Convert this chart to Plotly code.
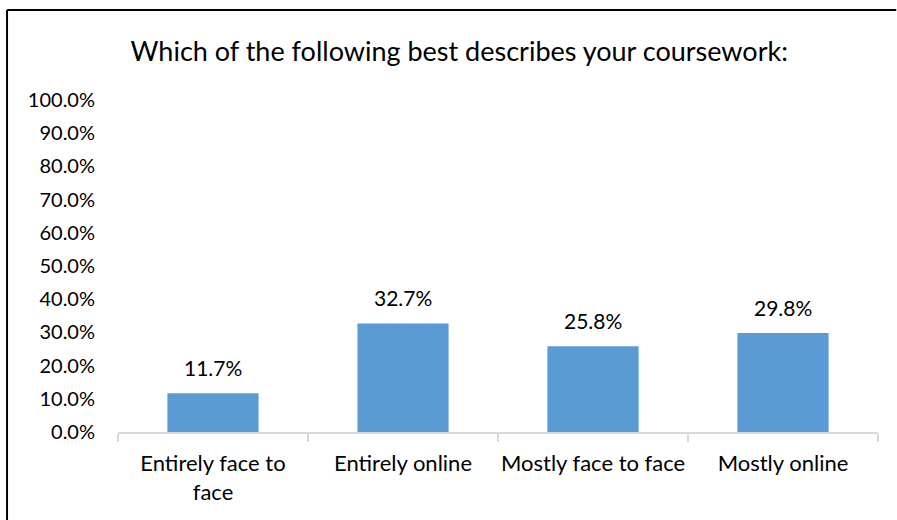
import plotly.graph_objects as go

categories = ["Entirely face to<br>face", "Entirely online", "Mostly face to face", "Mostly online"]
shares = [0.117, 0.327, 0.258, 0.298]
y_ticks = [0.0, 0.1, 0.2, 0.3, 0.4, 0.5, 0.6, 0.7, 0.8, 0.9, 1.0]

FONT = "Lato"

fig = go.Figure()
fig.add_trace(go.Bar(
    x=categories,
    y=shares,
    marker=dict(color="#5b9bd5", line=dict(width=0)),
    hoverinfo="skip",
))

# data labels floating a little above each bar
for c, v in zip(categories, shares):
    fig.add_annotation(
        x=c, y=v, text=f"{v:.1%}", showarrow=False,
        yanchor="bottom", yshift=11,
        font=dict(family=FONT, size=21, color="#000000"),
    )

# outer frame (left and top edges visible in the crop)
fig.add_shape(type="line", xref="paper", yref="paper",
              x0=-0.146, x1=-0.146, y0=-0.3, y1=1.271,
              line=dict(color="#000000", width=2))
fig.add_shape(type="line", xref="paper", yref="paper",
              x0=-0.146, x1=1.024, y0=1.271, y1=1.271,
              line=dict(color="#000000", width=2))

fig.update_layout(
    width=897, height=520,
    margin=dict(l=118, r=19, t=100, b=88),
    paper_bgcolor="white", plot_bgcolor="white",
    bargap=0.52,
    showlegend=False,
    title=dict(text="Which of the following best describes your coursework:",
               x=0.512, xanchor="center", y=0.9, yanchor="middle",
               font=dict(family=FONT, size=27, color="#000000")),
    font=dict(family=FONT, color="#000000"),
)
fig.update_xaxes(
    type="category", tickson="boundaries", tickangle=0, automargin=False,
    showline=True, linecolor="#d9d9d9", linewidth=1.5,
    ticks="outside", ticklen=8, tickcolor="#d9d9d9", tickwidth=1.5,
    showgrid=False, ticklabelstandoff=11,
    tickfont=dict(family=FONT, size=22, color="#000000"),
)
fig.update_yaxes(
    range=[0, 1], tickvals=y_ticks, tickformat=".1%", automargin=False,
    showgrid=False, showline=False, zeroline=False, ticks="",
    ticklabelstandoff=22,
    tickfont=dict(family=FONT, size=20, color="#000000"),
)

fig.write_html("out.html", config={"displayModeBar": False},
               post_script="document.body.style.margin='0';")
